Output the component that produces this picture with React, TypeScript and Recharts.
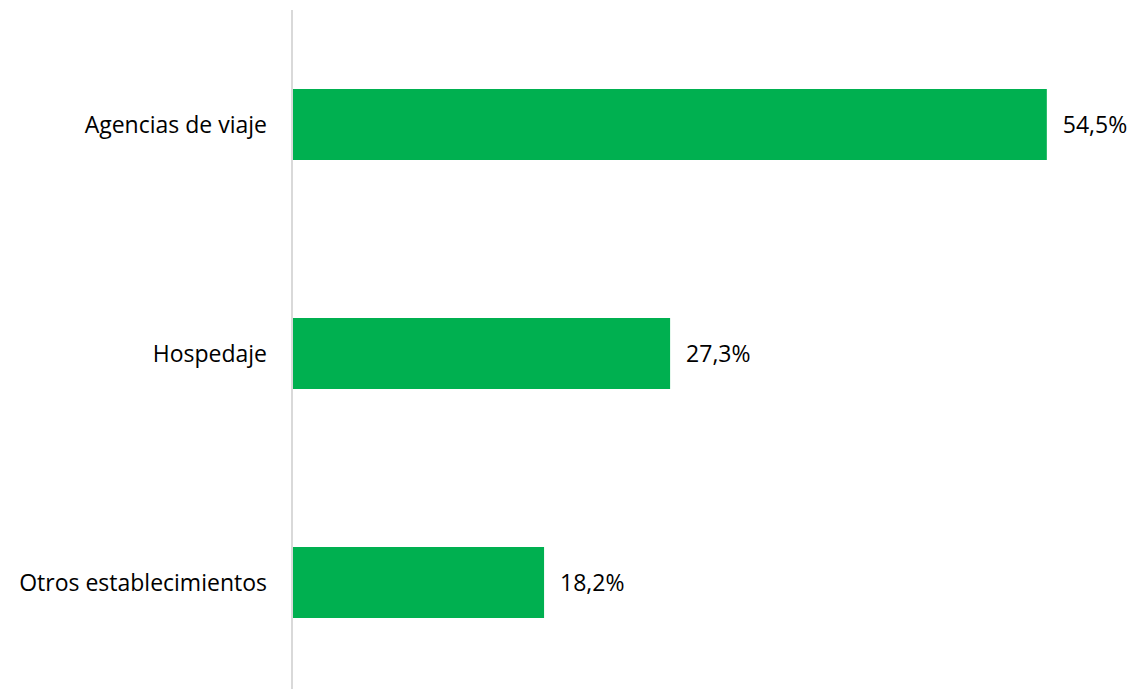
import React from "react";
import { BarChart, Bar, XAxis, YAxis, LabelList } from "recharts";

const categories = ["Agencias de viaje", "Hospedaje", "Otros establecimientos"];
const values = [54.5, 27.3, 18.2];

const data = categories.map((name, i) => ({ name, value: values[i] }));

const FONT = "'Open Sans', Lato, sans-serif";

const fmt = (v: any) => `${Number(v).toFixed(1).replace(".", ",")}%`;

export default function App() {
  return (
    <div style={{ position: "absolute", left: 0, top: 0, width: 1135, height: 689, overflow: "hidden", background: "#fff" }}>
      <BarChart
        width={1135}
        height={697}
        data={data}
        layout="vertical"
        margin={{ top: 10, right: 12, bottom: 0, left: 0 }}
        barSize={71}
      >
        <XAxis type="number" domain={[0, 60]} hide />
        <YAxis
          type="category"
          dataKey="name"
          width={292}
          axisLine={{ stroke: "#d9d9d9", strokeWidth: 2 }}
          tickLine={false}
          tickMargin={19}
          tick={{ fill: "#000", fontSize: 23, fontFamily: FONT }}
        />
        <Bar dataKey="value" fill="#00b050" isAnimationActive={false}>
          <LabelList
            dataKey="value"
            position="right"
            offset={16}
            formatter={fmt}
            style={{ fill: "#000", fontSize: 23, fontFamily: FONT }}
          />
        </Bar>
      </BarChart>
    </div>
  );
}
